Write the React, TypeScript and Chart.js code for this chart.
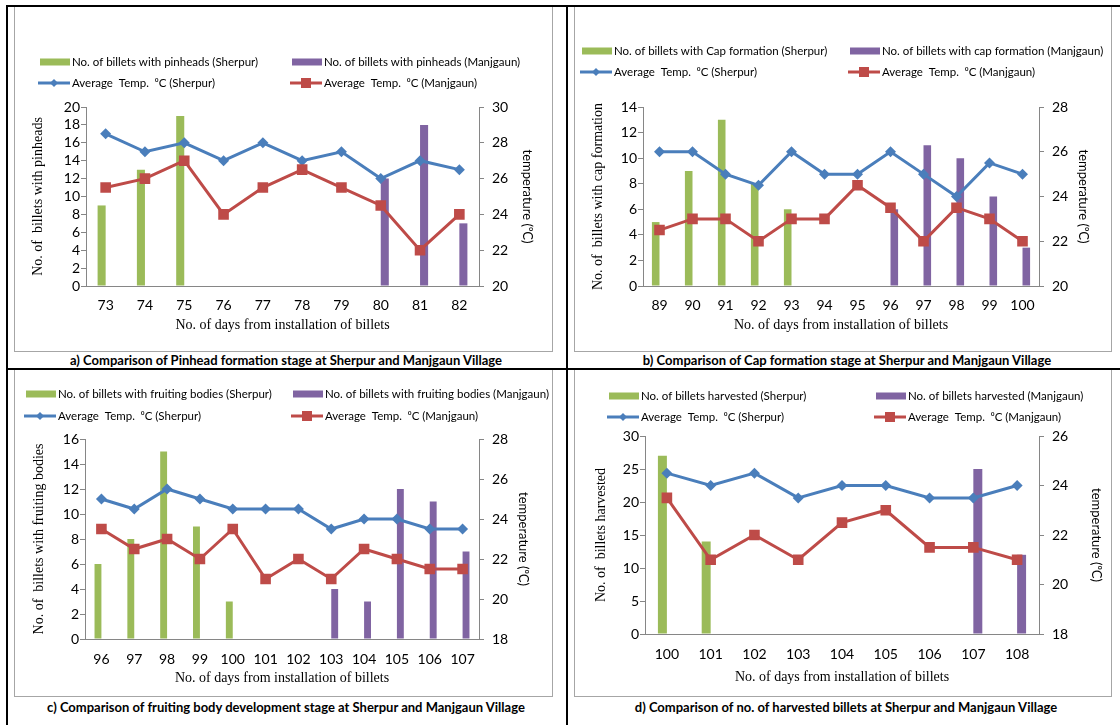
import React, { useEffect, useRef } from 'react';
import { Chart, registerables } from 'chart.js';

Chart.register(...registerables);

const SANS = 'Lato, "Open Sans", sans-serif';
const SERIF = '"Liberation Serif", "Times New Roman", serif';

const GREEN = '#9BBB59';
const PURPLE = '#8064A2';
const BLUE = '#4A7EBB';
const RED = '#BE4B48';
const AXIS = '#868686';

// ---------- Panel a: pinhead formation ----------
const daysA = ['73', '74', '75', '76', '77', '78', '79', '80', '81', '82'];
const pinheadSherpur = [9, 13, 19, 0, 0, 0, 0, 0, 0, 0];
const pinheadManjgaun = [0, 0, 0, 0, 0, 0, 0, 12, 18, 7];
const tempSherpurA = [28.5, 27.5, 28, 27, 28, 27, 27.5, 26, 27, 26.5];
const tempManjgaunA = [25.5, 26, 27, 24, 25.5, 26.5, 25.5, 24.5, 22, 24];

// ---------- Panel b: cap formation ----------
const daysB = ['89', '90', '91', '92', '93', '94', '95', '96', '97', '98', '99', '100'];
const capSherpur = [5, 9, 13, 8, 6, 0, 0, 0, 0, 0, 0, 0];
const capManjgaun = [0, 0, 0, 0, 0, 0, 0, 6, 11, 10, 7, 3];
const tempSherpurB = [26, 26, 25, 24.5, 26, 25, 25, 26, 25, 24, 25.5, 25];
const tempManjgaunB = [22.5, 23, 23, 22, 23, 23, 24.5, 23.5, 22, 23.5, 23, 22];

// ---------- Panel c: fruiting bodies ----------
const daysC = ['96', '97', '98', '99', '100', '101', '102', '103', '104', '105', '106', '107'];
const fruitSherpur = [6, 8, 15, 9, 3, 0, 0, 0, 0, 0, 0, 0];
const fruitManjgaun = [0, 0, 0, 0, 0, 0, 0, 4, 3, 12, 11, 7];
const tempSherpurC = [25, 24.5, 25.5, 25, 24.5, 24.5, 24.5, 23.5, 24, 24, 23.5, 23.5];
const tempManjgaunC = [23.5, 22.5, 23, 22, 23.5, 21, 22, 21, 22.5, 22, 21.5, 21.5];

// ---------- Panel d: harvested ----------
const daysD = ['100', '101', '102', '103', '104', '105', '106', '107', '108'];
const harvSherpur = [27, 14, 0, 0, 0, 0, 0, 0, 0];
const harvManjgaun = [0, 0, 0, 0, 0, 0, 0, 25, 12];
const tempSherpurD = [24.5, 24, 24.5, 23.5, 24, 24, 23.5, 23.5, 24];
const tempManjgaunD = [23.5, 21, 22, 21, 22.5, 23, 21.5, 21.5, 21];

// axis ranges [min, max, step]
const leftRangeA = [0, 20, 2];
const rightRangeA = [20, 30, 2];
const leftRangeB = [0, 14, 2];
const rightRangeB = [20, 28, 2];
const leftRangeC = [0, 16, 2];
const rightRangeC = [18, 28, 2];
const leftRangeD = [0, 30, 5];
const rightRangeD = [18, 26, 2];

const TEMP_S = 'Average  Temp.  \u2070C (Sherpur)';
const TEMP_M = 'Average  Temp.  \u2070C (Manjgaun)';
const X_TITLE = 'No. of days from installation of billets';
const R_TITLE = 'temperature (\u2070C)';

type Layout = {
  x: number; y: number; w: number; h: number;
  plotLeft: number; plotRight: number; plotTop: number; plotBottom: number;
  cols: number[]; rows: number[];
  leftTitlePad: number; rightTitlePad: number; xTitlePad: number; xTickPad: number;
  catPct: number;
};

type Panel = {
  days: string[];
  barS: number[]; barM: number[]; tS: number[]; tM: number[];
  labS: string; labM: string;
  yTitle: string;
  left: number[]; right: number[];
  caption: string; capX: number; capY: number;
  lay: Layout;
};

const panels: Panel[] = [
  {
    days: daysA, barS: pinheadSherpur, barM: pinheadManjgaun, tS: tempSherpurA, tM: tempManjgaunA,
    labS: 'No. of billets with pinheads (Sherpur)', labM: 'No. of billets with pinheads (Manjgaun)',
    yTitle: 'No. of  billets with pinheads', left: leftRangeA, right: rightRangeA,
    caption: 'a) Comparison of Pinhead formation stage at Sherpur and Manjgaun Village', capX: 286, capY: 360,
    lay: { x: 15, y: 7, w: 537, h: 344, plotLeft: 71, plotRight: 464, plotTop: 100, plotBottom: 279,
      cols: [25, 277], rows: [55, 76], leftTitlePad: 15, rightTitlePad: 17, xTitlePad: 17, xTickPad: 11, catPct: 0.41 },
  },
  {
    days: daysB, barS: capSherpur, barM: capManjgaun, tS: tempSherpurB, tM: tempManjgaunB,
    labS: 'No. of billets with Cap formation (Sherpur)', labM: 'No. of billets with cap formation (Manjgaun)',
    yTitle: 'No. of  billets with cap formation', left: leftRangeB, right: rightRangeB,
    caption: 'b) Comparison of Cap formation stage at Sherpur and Manjgaun Village', capX: 847, capY: 360,
    lay: { x: 575, y: 7, w: 536, h: 344, plotLeft: 68, plotRight: 464, plotTop: 100, plotBottom: 279,
      cols: [7, 275], rows: [44, 65], leftTitlePad: 15, rightTitlePad: 20, xTitlePad: 17, xTickPad: 11, catPct: 0.46 },
  },
  {
    days: daysC, barS: fruitSherpur, barM: fruitManjgaun, tS: tempSherpurC, tM: tempManjgaunC,
    labS: 'No. of billets with fruiting bodies (Sherpur)', labM: 'No. of billets with fruiting bodies (Manjgaun)',
    yTitle: 'No. of  billets with fruiting bodies', left: leftRangeC, right: rightRangeC,
    caption: 'c) Comparison of fruiting body development stage at Sherpur and Manjgaun Village', capX: 286, capY: 707,
    lay: { x: 15, y: 370, w: 537, h: 326, plotLeft: 70, plotRight: 464, plotTop: 69, plotBottom: 269,
      cols: [11, 278], rows: [24, 46], leftTitlePad: 16, rightTitlePad: 21, xTitlePad: 9, xTickPad: 12, catPct: 0.42 },
  },
  {
    days: daysD, barS: harvSherpur, barM: harvManjgaun, tS: tempSherpurD, tM: tempManjgaunD,
    labS: 'No. of billets harvested (Sherpur)', labM: 'No. of billets harvested (Manjgaun)',
    yTitle: 'No. of  billets harvested', left: leftRangeD, right: rightRangeD,
    caption: 'd) Comparison of no. of harvested billets at Sherpur and Manjgaun Village', capX: 846, capY: 707,
    lay: { x: 575, y: 370, w: 536, h: 326, plotLeft: 70, plotRight: 464, plotTop: 66, plotBottom: 264,
      cols: [34, 301], rows: [26, 47], leftTitlePad: 18, rightTitlePad: 7, xTitlePad: 10, xTickPad: 12, catPct: 0.41 },
  },
];

function makeLegend(p: Panel) {
  const items = [
    { text: p.labS, color: GREEN, kind: 'bar', col: 0, row: 0 },
    { text: p.labM, color: PURPLE, kind: 'bar', col: 1, row: 0 },
    { text: TEMP_S, color: BLUE, kind: 'diamond', col: 0, row: 1 },
    { text: TEMP_M, color: RED, kind: 'square', col: 1, row: 1 },
  ];
  return {
    id: 'gridLegend',
    afterDraw(chart: any) {
      const ctx = chart.ctx as CanvasRenderingContext2D;
      ctx.save();
      ctx.font = `11.5px ${SANS}`;
      ctx.textBaseline = 'middle';
      ctx.textAlign = 'left';
      for (const it of items) {
        const x = p.lay.cols[it.col];
        const y = p.lay.rows[it.row];
        ctx.fillStyle = it.color;
        ctx.strokeStyle = it.color;
        if (it.kind === 'bar') {
          ctx.fillRect(x, y - 3.5, 30, 7);
        } else {
          ctx.lineWidth = 3;
          ctx.beginPath();
          ctx.moveTo(x - 2, y);
          ctx.lineTo(x + 30, y);
          ctx.stroke();
          const cx = x + 14;
          ctx.beginPath();
          if (it.kind === 'diamond') {
            ctx.moveTo(cx - 4, y);
            ctx.lineTo(cx, y - 4);
            ctx.lineTo(cx + 4, y);
            ctx.lineTo(cx, y + 4);
            ctx.closePath();
          } else {
            ctx.rect(cx - 5, y - 5, 10, 10);
          }
          ctx.fill();
        }
        ctx.fillStyle = '#000';
        ctx.fillText(it.text, x + 32, y + 0.5);
      }
      ctx.restore();
    },
  };
}

function ChartPanel({ p }: { p: Panel }) {
  const ref = useRef<HTMLCanvasElement>(null);
  const L = p.lay;
  useEffect(() => {
    if (!ref.current) return;
    const chart = new Chart(ref.current, {
      type: 'bar',
      data: {
        labels: p.days,
        datasets: [
          { type: 'bar', label: p.labS, data: p.barS, backgroundColor: GREEN, yAxisID: 'y', order: 3,
            categoryPercentage: L.catPct, barPercentage: 1, borderWidth: 0 } as any,
          { type: 'bar', label: p.labM, data: p.barM, backgroundColor: PURPLE, yAxisID: 'y', order: 3,
            categoryPercentage: L.catPct, barPercentage: 1, borderWidth: 0 } as any,
          { type: 'line', label: TEMP_S, data: p.tS, borderColor: BLUE, backgroundColor: BLUE, yAxisID: 'y1',
            order: 1, borderWidth: 3, pointStyle: 'rectRot', pointRadius: 5.5, pointBorderWidth: 0,
            pointBackgroundColor: BLUE, tension: 0, fill: false } as any,
          { type: 'line', label: TEMP_M, data: p.tM, borderColor: RED, backgroundColor: RED, yAxisID: 'y1',
            order: 0, borderWidth: 3, pointStyle: 'rect', pointRadius: 7.5, pointBorderWidth: 0,
            pointBackgroundColor: RED, tension: 0, fill: false } as any,
        ],
      },
      options: {
        responsive: false,
        animation: false,
        events: [],
        layout: { padding: { top: L.plotTop, left: 0, right: 0, bottom: 0 } },
        plugins: { legend: { display: false }, tooltip: { enabled: false } },
        scales: {
          x: {
            offset: true,
            grid: { display: false, drawTicks: false },
            border: { display: true, color: AXIS, width: 1 },
            ticks: { color: '#000', font: { family: SANS, size: 14 }, padding: L.xTickPad, maxRotation: 0, autoSkip: false },
            title: { display: true, text: X_TITLE, color: '#000', font: { family: SERIF, size: 14 },
              padding: { top: 0, bottom: L.xTitlePad } },
            afterFit: (s: any) => { s.height = L.h - L.plotBottom; },
          },
          y: {
            position: 'left',
            min: p.left[0], max: p.left[1],
            grid: { display: true, drawOnChartArea: false, drawTicks: true, tickLength: 5, color: AXIS },
            border: { display: true, color: AXIS, width: 1 },
            ticks: { stepSize: p.left[2], autoSkip: false, color: '#000', font: { family: SANS, size: 14 }, padding: 1 },
            title: { display: true, text: p.yTitle, color: '#000', font: { family: SERIF, size: 14 },
              padding: { top: L.leftTitlePad, bottom: 0 } },
            afterFit: (s: any) => { s.width = L.plotLeft; },
          },
          y1: {
            position: 'right',
            min: p.right[0], max: p.right[1],
            grid: { display: true, drawOnChartArea: false, drawTicks: true, tickLength: 5, color: AXIS },
            border: { display: true, color: AXIS, width: 1 },
            ticks: { stepSize: p.right[2], autoSkip: false, color: '#000', font: { family: SANS, size: 14 }, padding: 8 },
            title: { display: true, text: R_TITLE, color: '#000', font: { family: SANS, size: 13 },
              padding: { top: L.rightTitlePad, bottom: 0 } },
            afterFit: (s: any) => { s.width = L.w - L.plotRight; },
          },
        },
      } as any,
      plugins: [makeLegend(p)],
    });
    return () => chart.destroy();
  }, []);
  return (
    <>
      <div style={{ position: 'absolute', left: L.x - 1, top: L.y - 1, width: L.w, height: L.h,
        border: '1px solid #a6a6a6', background: '#fff' }}>
        <canvas ref={ref} width={L.w} height={L.h} style={{ display: 'block' }} />
      </div>
      <div style={{ position: 'absolute', left: p.capX - 280, top: p.capY - 8, width: 560, height: 16,
        lineHeight: '16px', textAlign: 'center', fontFamily: SANS, fontWeight: 700, fontSize: 13, color: '#000',
        whiteSpace: 'nowrap' }}>
        {p.caption}
      </div>
    </>
  );
}

export default function App() {
  const line = (l: number, t: number, w: number, h: number) => (
    <div style={{ position: 'absolute', left: l, top: t, width: w, height: h, background: '#000' }} />
  );
  return (
    <div style={{ position: 'absolute', left: 0, top: 0, width: 1120, height: 725, background: '#fff', overflow: 'hidden' }}>
      {panels.map((p, i) => <ChartPanel key={i} p={p} />)}
      {line(6, 5, 1114, 2)}
      {line(6, 5, 2, 720)}
      {line(566, 5, 2, 720)}
      {line(6, 368, 1114, 1.5)}
    </div>
  );
}
